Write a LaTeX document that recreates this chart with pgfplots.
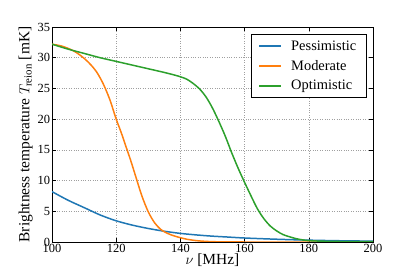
\documentclass[border=0pt]{standalone}
\usepackage{pgfplots}
\pgfplotsset{compat=1.18}
\usepackage{fontspec}
\setmainfont{Liberation Serif}
\definecolor{c1}{HTML}{1F77B4}
\definecolor{c2}{HTML}{FF7F0E}
\definecolor{c3}{HTML}{2CA02C}
\begin{document}
\begin{tikzpicture}
\path[use as bounding box] (0,0) rectangle (415bp,277bp);
\begin{axis}[
  at={(52bp,35bp)}, anchor=south west,
  scale only axis, width=321bp, height=215bp,
  xmin=100, xmax=200, ymin=0, ymax=35,
  xtick={100,120,...,200}, ytick={0,5,...,35},
  tick align=inside, major tick length=4bp,
  xtick pos=both, ytick pos=both,
  grid=major,
  major grid style={gray!75, dotted, line width=0.6pt},
  axis line style={black, line width=0.8pt},
  tick style={black, line width=0.6pt},
  /pgf/number format/assume math mode=true,
  ticklabel style={font=\fontsize{12.5}{14}\selectfont},
  xticklabel style={yshift=1.5bp},
  yticklabel style={xshift=1.5bp},
  xlabel={$\nu$ [MHz]},
  ylabel={Brightness temperature $T_{\mathrm{reion}}$ [mK]},
  label style={font=\fontsize{15.5}{17}\selectfont},
  xlabel style={yshift=5bp},
  ylabel style={yshift=-2bp},
  legend style={at={(0.98,0.966)}, anchor=north east, draw=black, line width=0.8pt,
    font=\fontsize{14.5}{16}\selectfont, row sep=4.5pt, column sep=8bp,
    inner xsep=8pt, inner ysep=4pt},
  legend cell align=left,
  legend image code/.code={%
    \path[#1, draw=none, fill] (0bp,-1bp) rectangle (22bp,1bp);},
]
\addplot[c1, line width=1.5pt, smooth] coordinates {
(100,8.2)(105,6.8)(110,5.6)(115,4.4)(120,3.45)(125,2.75)(130,2.2)(135,1.75)(140,1.4)
(145,1.15)(150,0.95)(155,0.8)(160,0.65)(170,0.45)(180,0.3)(190,0.2)(200,0.14)};
\addlegendentry{Pessimistic}
\addplot[c2, line width=1.5pt, smooth] coordinates {
(100,32.2)(103,31.9)(106,31.3)(108,30.7)(110,29.9)(112,28.9)(114,27.6)(116,25.7)
(118,23.2)(120,20.0)(121.5,17.9)(123,15.6)(124.5,13.3)(126,10.8)(128,7.5)(130,4.9)
(132,3.1)(134,2.0)(136,1.4)(138,1.0)(140,0.7)(142,0.45)(145,0.22)(148,0.1)(152,0.03)
(160,0.0)(200,0.0)};
\addlegendentry{Moderate}
\addplot[c3, line width=1.5pt, smooth] coordinates {
(100,32.2)(105,31.4)(110,30.7)(115,30.0)(120,29.4)(125,28.8)(130,28.2)(135,27.6)
(138,27.2)(140,26.9)(142,26.5)(144,25.8)(146,24.9)(148,23.6)(150,21.8)(152,19.6)
(154,17.2)(156,14.5)(158,12.0)(160,9.7)(162,7.5)(164,5.4)(166,3.8)(168,2.6)(170,1.8)
(172,1.2)(174,0.85)(176,0.55)(178,0.35)(180,0.22)(185,0.12)(190,0.08)(200,0.05)};
\addlegendentry{Optimistic}
\end{axis}
\end{tikzpicture}
\end{document}
